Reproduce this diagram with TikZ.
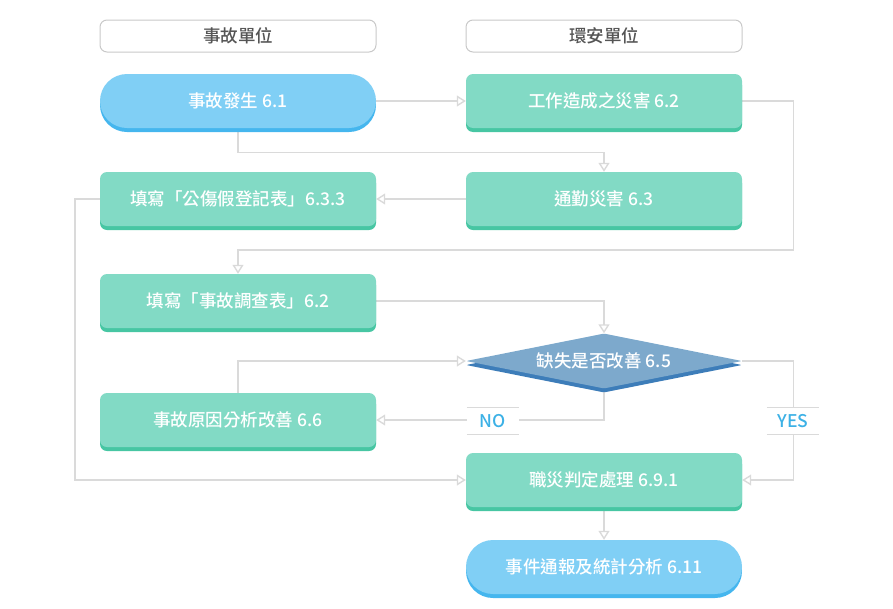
\documentclass[tikz,border=0pt]{standalone}
\usepackage{fontspec}
\setmainfont{Noto Sans CJK TC}[BoldFont={Noto Sans CJK TC Medium}]
\usetikzlibrary{arrows.meta,positioning,shadows,shapes.geometric,backgrounds}
\definecolor{cTeal}{HTML}{82DAC5}
\definecolor{cTealD}{HTML}{47C6A3}
\definecolor{cBlue}{HTML}{80CFF5}
\definecolor{cBlueD}{HTML}{45B6EE}
\definecolor{cAsk}{HTML}{7DA9CC}
\definecolor{cAskD}{HTML}{3D7DB9}
\definecolor{cLine}{HTML}{DADADA}
\definecolor{cHdrLine}{HTML}{C9C9C9}
\definecolor{cHdrInk}{HTML}{555555}
\definecolor{cTag}{HTML}{3CB1E6}
\tikzset{
  font=\bfseries\fontsize{17.5}{20}\selectfont,
  hdr/.style={rounded corners=7pt, draw=cHdrLine, line width=1pt, fill=white, text=cHdrInk, minimum width=276pt, minimum height=32pt, inner sep=0pt},
  box/.style={rounded corners=7pt, fill=cTeal, text=white, minimum width=276pt, minimum height=54pt, inner sep=0pt, general shadow={fill=cTealD, shadow yshift=-4pt}},
  pill/.style={rounded corners=27pt, fill=cBlue, text=white, minimum width=276pt, minimum height=54pt, inner sep=0pt, general shadow={fill=cBlueD, shadow yshift=-4pt}},
  ask/.style={diamond, aspect=5, rounded corners=2pt, fill=cAsk, text=white, minimum width=276pt, minimum height=55pt, inner sep=0pt, general shadow={fill=cAskD, shadow yshift=-4pt}},
  flow/.style={-{Triangle[open, length=9pt, width=11pt]}, line width=1.4pt, draw=cLine},
  tag/.style={fill=white, text=cTag, minimum width=52pt, minimum height=27pt, inner sep=0pt},
  tagline/.style={line width=1.4pt, draw=cLine},
}

\begin{document}
\begin{tikzpicture}[x=1pt, y=-1pt]
\useasboundingbox (0,0) rectangle (893,608);
% column heads
\node[hdr] (hA) at (238,36) {事故單位};
\node[hdr] (hB) at (604,36) {環安單位};
% steps
\node[pill] (occur) at (238,101) {事故發生 6.1};
\node[box] (work) at (604,101) {工作造成之災害 6.2};
\node[box] (commute) at (604,199) {通勤災害 6.3};
\node[box] (sick) at (238,199) {填寫「公傷假登記表」6.3.3};
\node[box] (survey) at (238,301) {填寫「事故調查表」6.2};
\node[ask] (check) at (604,361) {缺失是否改善 6.5};
\node[box] (fix) at (238,420) {事故原因分析改善 6.6};
\node[box] (judge) at (604,480) {職災判定處理 6.9.1};
\node[pill] (report) at (604,567) {事件通報及統計分析 6.11};
% connectors
\begin{scope}[on background layer]
\draw[flow] (occur.east) -- (work.west);
\draw[flow] (occur.south) -- ++(0,24) -| (commute.north);
\draw[flow] (work.east) -- ++(51,0) |- ([yshift=24pt]survey.north) -- (survey.north);
\draw[flow] (commute.west) -- (sick.east);
\draw[flow] (sick.west) -- ++(-25,0) |- (judge.west);
\draw[flow] (survey.east) -| (check.north);
\draw[flow] (check.south) |- (fix.east);
\draw[flow] (fix.north) |- (check.west);
\draw[flow] (check.east) -- ++(51,0) |- (judge.east);
\draw[flow] (judge.south) -- (report.north);
\end{scope}
% answers
\node[tag] (no) at (493,421) {NO};
\node[tag] (yes) at (793,421) {YES};
\foreach \t in {no,yes}{
  \draw[tagline] (\t.north west) -- (\t.north east);
  \draw[tagline] (\t.south west) -- (\t.south east);
}
\end{tikzpicture}
\end{document}
